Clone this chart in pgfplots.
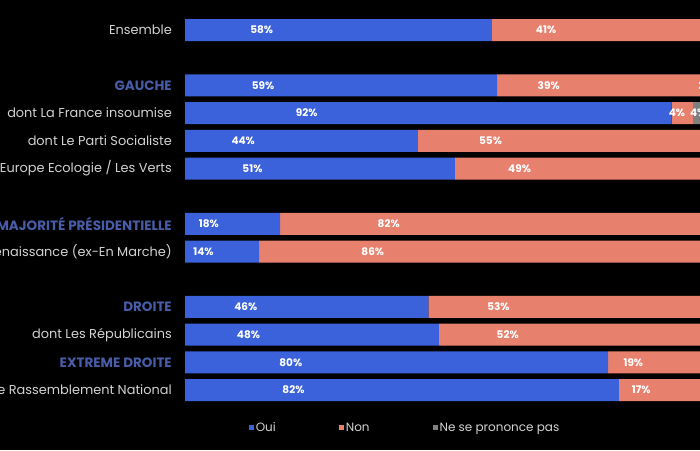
\documentclass[border=0pt]{standalone}
\usepackage{pgfplots}
\pgfplotsset{compat=1.18}
\usepackage{pgfplotstable}
\usepackage{fontspec}
\setmainfont{Poppins}
\definecolor{oui}{RGB}{59,98,218}
\definecolor{non}{RGB}{232,128,110}
\definecolor{nsp}{RGB}{128,128,128}
\definecolor{hdr}{RGB}{72,92,168}
\definecolor{lbl}{RGB}{210,210,210}
\pgfplotstableread{
pos oui non nsp
0 58 41 1
2 59 39 2
3 92 4 4
4 44 55 1
5 51 49 0
7 18 82 0
8 14 86 0
10 46 53 1
11 48 52 0
12 80 19 1
13 82 17 1
}\data
\newcommand{\hd}[1]{\textcolor{hdr}{\fontsize{13.5}{14}\selectfont\bfseries #1}}
\begin{document}
\begin{tikzpicture}[x=1pt,y=1pt]
\fill[black] (0,0) rectangle (700,450);
\begin{axis}[
  at={(185pt,433.8pt)}, anchor=north west,
  scale only axis, width=529pt, height=387.7pt,
  xbar stacked, bar width=22pt,
  xmin=0, xmax=100, ymin=-0.5, ymax=13.5, y dir=reverse,
  axis line style={draw=none},
  /pgf/number format/assume math mode=true,
  ytick={0,2,3,4,5,7,8,10,11,12,13},
  yticklabels={Ensemble,{\hd{GAUCHE}},dont La France insoumise,dont Le Parti Socialiste,Europe Ecologie / Les Verts,{\hd{MAJORITÉ PRÉSIDENTIELLE}},dont Renaissance (ex-En Marche),{\hd{DROITE}},dont  Les Républicains,{\hd{EXTREME DROITE}},dont le Rassemblement National},
  xtick=\empty,
  major tick length=0pt,
  ytick style={draw=none},
  yticklabel style={font=\fontsize{12.9}{13}\selectfont, text=lbl, anchor=east, inner sep=0pt, xshift=-13pt},
  every node near coord/.append style={font=\fontsize{10.5}{11}\selectfont\bfseries, text=white, anchor=center},
  legend style={draw=none, fill=none, text=lbl, font=\fontsize{12}{13}\selectfont, legend columns=3,
    at={(0.416,-0.062)}, anchor=center, inner sep=0pt,
    /tikz/every even column/.append style={column sep=61pt}},
  legend cell align=left,
]
\addplot[fill=oui, draw=none,
  legend image code/.code={\fill[oui] (0pt,-2.5pt) rectangle (5pt,2.5pt);},
  visualization depends on={\thisrow{oui}\as\segval},
  nodes near coords={\pgfmathprintnumber{\segval}\%},
  every node near coord/.append style={shift={(axis direction cs:-\segval/4,0)}}]
  table[x=oui,y=pos]{\data};
\addlegendentry{Oui}
\addplot[fill=non, draw=none,
  legend image code/.code={\fill[non] (0pt,-2.5pt) rectangle (5pt,2.5pt);},
  visualization depends on={\thisrow{non}\as\segval},
  nodes near coords={\pgfmathprintnumber{\segval}\%},
  every node near coord/.append style={shift={(axis direction cs:-\segval/4,0)}}]
  table[x=non,y=pos]{\data};
\addlegendentry{Non}
\addplot[fill=nsp, draw=none,
  legend image code/.code={\fill[nsp] (0pt,-2.5pt) rectangle (5pt,2.5pt);},
  visualization depends on={\thisrow{nsp}\as\segval},
  nodes near coords={\pgfmathparse{\segval>0}\ifnum\pgfmathresult=1 \pgfmathprintnumber{\segval}\%\fi},
  every node near coord/.append style={shift={(axis direction cs:-\segval/4,0)}}]
  table[x=nsp,y=pos]{\data};
\addlegendentry{Ne se prononce pas}
\end{axis}
\pgfresetboundingbox
\useasboundingbox (0,0) rectangle (700,450);
\end{tikzpicture}
\end{document}
